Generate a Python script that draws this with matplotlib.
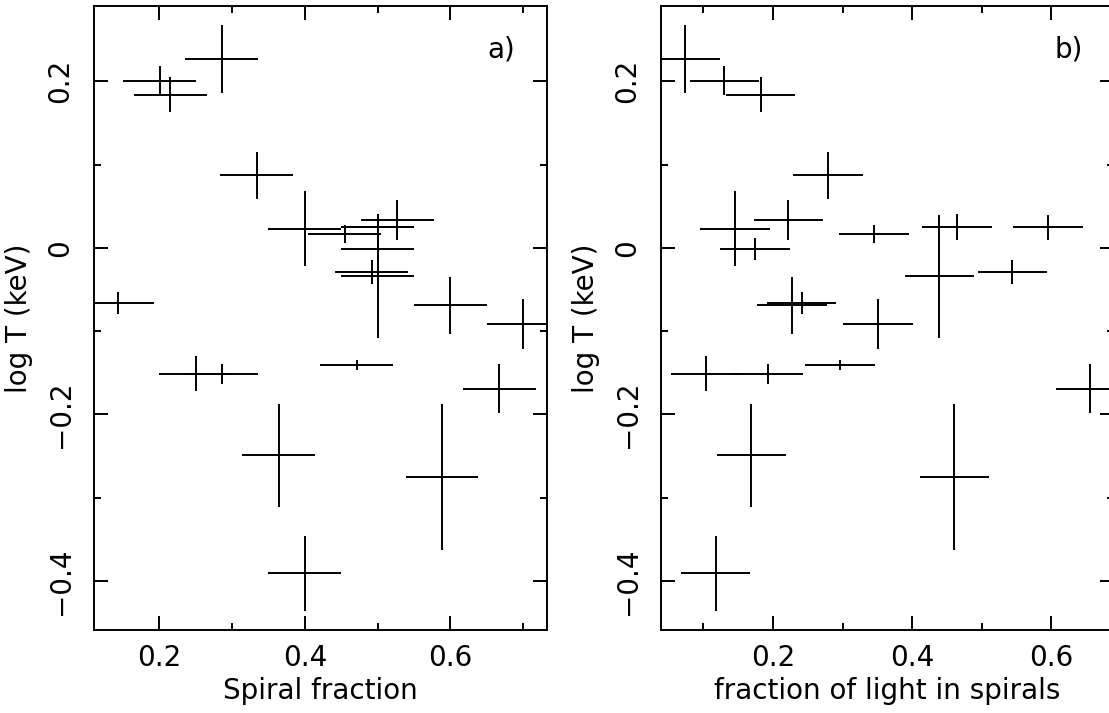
import matplotlib
matplotlib.use('Agg')
import matplotlib.pyplot as plt
from matplotlib.ticker import MultipleLocator

# --- data ---
spiral_frac = [0.286, 0.2005, 0.215, 0.334, 0.400, 0.455, 0.500, 0.500, 0.500, 0.527, 0.492,
               0.500, 0.143, 0.600, 0.700, 0.250, 0.286, 0.471, 0.667, 0.364, 0.5885, 0.400]
light_frac = [0.074, 0.130, 0.182, 0.279, 0.145, 0.345, 0.464, 0.595, 0.174, 0.222, 0.544,
              0.439, 0.241, 0.227, 0.351, 0.104, 0.193, 0.296, 0.656, 0.169, 0.4605, 0.1175]
log_t = [0.227, 0.201, 0.184, 0.087, 0.023, 0.017, 0.025, 0.025, -0.001, 0.033, -0.029,
         -0.034, -0.066, -0.069, -0.092, -0.151, -0.152, -0.141, -0.169, -0.249, -0.275, -0.391]
log_t_err = [0.041, 0.017, 0.021, 0.028, 0.045, 0.011, 0.016, 0.015, 0.013, 0.024, 0.015,
             0.074, 0.013, 0.034, 0.030, 0.021, 0.012, 0.006, 0.029, 0.062, 0.088, 0.045]
frac_err = 0.05

FS = 20
LW = 1.4

fig = plt.figure(figsize=(11.09, 7.13), dpi=100)
ax1 = fig.add_axes([94 / 1109, 83 / 713, 453 / 1109, 624 / 713])
ax2 = fig.add_axes([661 / 1109, 83 / 713, 453 / 1109, 624 / 713])

panels = [
    (ax1, spiral_frac, "Spiral fraction", "a)", (0.1104, 0.7326)),
    (ax2, light_frac, "fraction of light in spirals", "b)", (0.039, 0.69)),
]

def fmt(v, pos):
    # PGPLOT-style labels: plain 0, real minus sign
    if abs(v) < 1e-9:
        return "0"
    return f"{v:g}".replace("-", "\u2212")

for ax, xs, xlab, tag, xlim in panels:
    ax.errorbar(xs, log_t, xerr=frac_err, yerr=log_t_err, fmt='none',
                ecolor='black', elinewidth=LW, capsize=0)
    ax.set_xlim(*xlim)
    ax.set_ylim(-0.459, 0.2905)

    ax.xaxis.set_major_locator(MultipleLocator(0.2))
    ax.xaxis.set_minor_locator(MultipleLocator(0.1))
    ax.yaxis.set_major_locator(MultipleLocator(0.2))
    ax.yaxis.set_minor_locator(MultipleLocator(0.1))
    ax.xaxis.set_major_formatter(fmt)
    ax.yaxis.set_major_formatter(fmt)

    ax.tick_params(which='both', direction='in', top=True, right=True,
                   width=LW, labelsize=FS)
    ax.tick_params(which='major', length=10)
    ax.tick_params(axis='x', which='major', pad=10)
    ax.tick_params(axis='y', which='major', pad=14)
    ax.tick_params(which='minor', length=5)
    for lbl in ax.get_yticklabels():
        lbl.set_rotation(90)
        lbl.set_va('center')
    for s in ax.spines.values():
        s.set_linewidth(LW)

    ax.set_xlabel(xlab, fontsize=FS, labelpad=4)
    ax.set_ylabel("log T (keV)", fontsize=FS, labelpad=10)
    ax.text(0.90, 0.931, tag, transform=ax.transAxes, fontsize=FS,
            ha='center', va='center')

fig.savefig("out.png", dpi=100)
